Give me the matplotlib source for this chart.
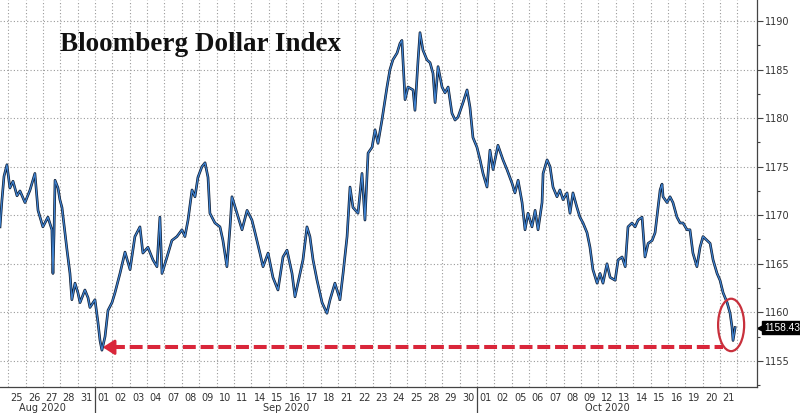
import matplotlib.pyplot as plt
import matplotlib.transforms as mtransforms
from matplotlib.patches import Ellipse
import numpy as np

# sample time in trading days (0 = start of the 25 Aug session) and index level
t_day = [
    -0.47, -0.36, -0.24, -0.07, 0.10, 0.28, 0.51, 0.68, 0.97, 1.26,
    1.54, 1.72, 2.00, 2.29, 2.52, 2.58, 2.64, 2.70, 2.87, 2.98,
    3.10, 3.39, 3.56, 3.67, 3.85, 4.02, 4.14, 4.42, 4.60, 4.71,
    5.00, 5.17, 5.29, 5.40, 5.58, 5.75, 5.98, 6.15, 6.44, 6.73,
    7.02, 7.30, 7.59, 7.76, 8.05, 8.34, 8.57, 8.74, 8.86, 9.15,
    9.43, 9.72, 10.01, 10.18, 10.36, 10.59, 10.76, 10.93, 11.16, 11.34,
    11.51, 11.62, 11.91, 12.20, 12.37, 12.60, 12.78, 12.89, 13.18, 13.47,
    13.76, 14.04, 14.22, 14.50, 14.68, 14.97, 15.25, 15.54, 15.83, 16.06,
    16.35, 16.52, 16.81, 16.98, 17.21, 17.38, 17.56, 17.79, 18.08, 18.36,
    18.54, 18.82, 19.11, 19.29, 19.52, 19.69, 19.86, 20.15, 20.38, 20.55,
    20.73, 20.96, 21.13, 21.30, 21.53, 21.82, 21.99, 22.16, 22.40, 22.57,
    22.68, 22.86, 23.03, 23.32, 23.43, 23.61, 23.72, 23.89, 24.12, 24.30,
    24.47, 24.59, 24.76, 24.99, 25.16, 25.34, 25.56, 25.74, 25.91, 26.20,
    26.43, 26.60, 26.77, 27.00, 27.18, 27.35, 27.58, 27.75, 27.93, 28.21,
    28.50, 28.73, 29.02, 29.19, 29.37, 29.60, 29.77, 29.94, 30.17, 30.35,
    30.52, 30.75, 30.81, 31.04, 31.21, 31.38, 31.61, 31.78, 31.96, 32.19,
    32.36, 32.53, 32.76, 32.93, 33.11, 33.34, 33.51, 33.68, 33.92, 34.09,
    34.26, 34.49, 34.67, 34.96, 35.13, 35.36, 35.54, 35.70, 35.93, 36.11,
    36.28, 36.51, 36.68, 36.86, 37.09, 37.26, 37.43, 37.55, 37.66, 37.72,
    37.95, 38.12, 38.29, 38.52, 38.70, 38.87, 39.10, 39.27, 39.44, 39.67,
    39.85, 40.02, 40.25, 40.43, 40.60, 40.83, 41.00, 41.18, 41.41, 41.58,
    41.69, 41.75, 41.87,
]
level = [
    1168.8, 1171.5, 1174.0, 1175.2, 1172.8, 1173.5, 1172.0, 1172.5, 1171.3, 1172.6,
    1174.3, 1170.5, 1168.8, 1169.8, 1168.5, 1164.0, 1168.0, 1173.6, 1172.8, 1171.6,
    1170.8, 1166.4, 1164.0, 1161.3, 1163.0, 1162.0, 1161.0, 1162.3, 1161.5, 1160.5,
    1161.3, 1159.0, 1157.1, 1156.1, 1157.5, 1160.2, 1161.0, 1162.0, 1164.0, 1166.2,
    1164.4, 1167.8, 1168.8, 1166.1, 1166.7, 1165.4, 1164.7, 1169.8, 1164.0, 1165.7,
    1167.4, 1167.8, 1168.5, 1167.8, 1169.5, 1172.6, 1171.9, 1173.9, 1175.0, 1175.4,
    1173.9, 1170.2, 1169.2, 1168.8, 1167.4, 1164.7, 1168.8, 1171.9, 1170.2, 1168.5,
    1170.5, 1169.5, 1168.2, 1166.1, 1164.7, 1166.1, 1163.6, 1162.3, 1165.7, 1166.4,
    1164.0, 1161.6, 1164.0, 1165.4, 1168.8, 1167.8, 1165.4, 1163.3, 1161.0, 1159.9,
    1161.3, 1163.0, 1161.3, 1164.0, 1167.8, 1172.9, 1170.8, 1170.2, 1174.3, 1169.5,
    1176.4, 1177.0, 1178.8, 1177.4, 1179.8, 1183.2, 1185.0, 1186.0, 1186.7, 1187.7,
    1188.0, 1181.9, 1183.2, 1182.9, 1180.8, 1186.0, 1188.8, 1187.0, 1186.0, 1185.7,
    1184.6, 1181.6, 1185.3, 1183.2, 1182.6, 1183.2, 1180.5, 1179.8, 1180.1, 1181.6,
    1182.9, 1181.1, 1178.0, 1177.0, 1175.7, 1174.3, 1172.9, 1176.7, 1174.7, 1177.2,
    1175.7, 1174.7, 1173.3, 1172.3, 1173.6, 1171.3, 1168.5, 1170.2, 1168.8, 1170.5,
    1168.5, 1171.3, 1174.3, 1175.7, 1175.0, 1172.9, 1171.9, 1172.6, 1171.6, 1172.3,
    1170.2, 1172.3, 1170.8, 1169.8, 1169.2, 1168.2, 1166.7, 1164.4, 1163.0, 1164.0,
    1163.0, 1165.0, 1163.6, 1163.3, 1165.4, 1165.7, 1164.7, 1168.8, 1169.2, 1168.8,
    1169.5, 1169.8, 1165.7, 1167.1, 1167.4, 1168.2, 1170.8, 1172.6, 1173.2, 1171.9,
    1171.3, 1171.9, 1171.3, 1169.8, 1169.2, 1169.2, 1168.5, 1168.5, 1166.1, 1164.7,
    1166.7, 1167.8, 1167.4, 1167.1, 1165.4, 1164.0, 1163.3, 1162.0, 1161.0, 1159.9,
    1158.5, 1157.1, 1158.43,
]

day_labels = [
    "25", "26", "27", "28", "31",
    "01", "02", "03", "04", "07", "08", "09", "10", "11", "14", "15", "16",
    "17", "18", "21", "22", "23", "24", "25", "28", "29", "30",
    "01", "02", "05", "06", "07", "08", "09", "12", "13", "14", "15", "16",
    "19", "20", "21",
]
month_names = ["Aug 2020", "Sep 2020", "Oct 2020"]
month_bounds = [-1, 5, 27, 42]   # trading-day index where each month starts/ends

last_value = level[-1]
low_idx = int(np.argmin(level))
low_value = 1156.4

red = "#d9263a"
grid_kw = dict(color="#9a9a9a", linestyle=(0, (1, 2)), linewidth=0.8)

fig = plt.figure(figsize=(8, 4.13), dpi=100)
ax = fig.add_axes([0, 26 / 413, 757 / 800, 387 / 413])

ax.plot(t_day, level, color="#0d1a2e", lw=1.9, zorder=3)
ax.plot(t_day, level, color="#3f82d0", lw=0.9, zorder=4)

ax.set_xlim(-0.47, 43.13)
ax.set_ylim(1152.31, 1192.16)

# axes styling (Bloomberg-like: value axis on the right)
for side in ("left", "top"):
    ax.spines[side].set_visible(False)
for side in ("right", "bottom"):
    ax.spines[side].set_color("#444444")
    ax.spines[side].set_linewidth(0.9)

ax.yaxis.tick_right()
ax.set_yticks(np.arange(1155, 1191, 5))
ax.set_yticks(np.arange(1152.5, 1192, 5), minor=True)
ax.tick_params(axis="y", which="major", length=4, width=0.8, pad=1.5,
               labelsize=7, labelcolor="#333333", color="#444444")
ax.tick_params(axis="y", which="minor", length=2.5, width=0.8, color="#444444")

ax.set_xticks(np.arange(len(day_labels)) + 0.5)
ax.set_xticklabels(day_labels)
ax.set_xticks(np.arange(0, 43), minor=True)
ax.tick_params(axis="x", which="both", length=0, pad=4,
               labelsize=7, labelcolor="#333333")

ax.grid(axis="y", which="major", **grid_kw)
ax.grid(axis="x", which="minor", **grid_kw)
ax.grid(axis="x", which="major", visible=False)
ax.set_axisbelow(True)

# month labels and separators under the date axis
trans = mtransforms.blended_transform_factory(ax.transData, ax.transAxes)
for name, a, b in zip(month_names, month_bounds[:-1], month_bounds[1:]):
    ax.text((a + b) / 2, -0.055, name, transform=trans, ha="center",
            va="center", fontsize=7, color="#333333")
for b in month_bounds[1:-1]:
    ax.plot([b, b], [0, -0.08], transform=trans, color="#444444",
            lw=0.9, clip_on=False)

# title
ax.text(0.079, 0.886, "Bloomberg Dollar Index", transform=ax.transAxes,
        fontfamily="Liberation Serif", fontweight="bold", fontsize=19.5,
        va="center", ha="left", color="#111111")

# last value tag on the axis
ytrans = mtransforms.blended_transform_factory(ax.transAxes, ax.transData)
ax.plot([1 + 5 / 757], [last_value], marker="<", ms=6.5, color="black",
        transform=ytrans, clip_on=False)
ax.text(1 + 7 / 757, last_value, f"{last_value:.2f}", transform=ytrans,
        ha="left", va="center", fontsize=7.3, color="white",
        fontfamily="Liberation Sans",
        bbox=dict(boxstyle="square,pad=0.18", fc="black", ec="black"))

# dashed red arrow back to the September low
low_t = t_day[low_idx]
ax.plot([low_t + 0.6, 41.2], [low_value, low_value], color=red, lw=2.9,
        linestyle=(0, (3.2, 1.2)), zorder=5, solid_capstyle="butt")
ax.annotate("", xy=(low_t + 0.05, low_value), xytext=(low_t + 0.9, low_value),
            arrowprops=dict(arrowstyle="-|>,head_length=0.7,head_width=0.45",
                            color=red, lw=2.0, shrinkA=0, shrinkB=0),
            zorder=6)

# circle around the latest move
ax.add_patch(Ellipse((41.64, 1158.7), width=1.5, height=5.4, fill=False,
                     edgecolor="#c8303c", lw=1.6, zorder=6))

fig.savefig("out.png", dpi=100, facecolor="white")
